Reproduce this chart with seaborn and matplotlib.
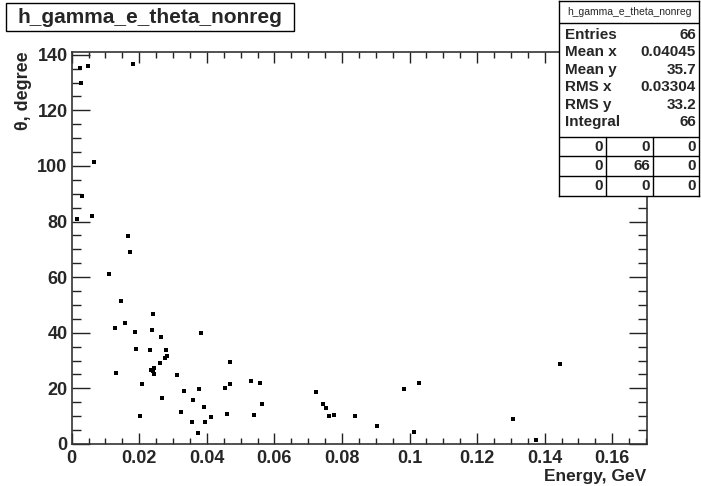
import numpy as np
import pandas as pd
import matplotlib
matplotlib.use("Agg")
import matplotlib.pyplot as plt
import matplotlib.ticker as mticker
import matplotlib.patches as mpatches
import seaborn as sns

sns.set_theme(style="white")
plt.rcParams['font.family'] = ['Liberation Sans', 'DejaVu Sans']

# photon energy (GeV) and theta (degree)
energy = [0.0025, 0.0049, 0.0182, 0.00275, 0.0067, 0.0030, 0.0015, 0.0060,
          0.0167, 0.0173, 0.0111, 0.0145, 0.0241, 0.0129, 0.0158, 0.0239,
          0.0187, 0.0264, 0.0190, 0.0233, 0.0279, 0.0282, 0.0277, 0.0261,
          0.0244, 0.0234, 0.0241, 0.0244, 0.0131, 0.0313, 0.0208, 0.0332,
          0.0378, 0.0266, 0.0358, 0.0323, 0.0356, 0.0203, 0.0375, 0.0382,
          0.0468, 0.0453, 0.0468, 0.0531, 0.0557, 0.0392, 0.0562, 0.0413,
          0.0461, 0.0540, 0.0394, 0.0722, 0.0745, 0.0753, 0.0761, 0.0775,
          0.0839, 0.0904, 0.0984, 0.1029, 0.1012, 0.1305, 0.1374, 0.1445]
theta = [135.4, 136.1, 136.8, 130.0, 101.4, 89.1, 80.8, 82.0,
         74.7, 69.0, 61.2, 51.6, 46.6, 41.7, 43.5, 41.1,
         40.4, 38.4, 34.1, 33.7, 33.9, 31.5, 30.9, 29.0,
         27.5, 26.7, 26.4, 25.3, 25.6, 24.7, 21.7, 19.1,
         19.7, 16.7, 15.7, 11.4, 7.9, 10.2, 4.1, 39.9,
         29.6, 20.3, 21.6, 22.8, 21.8, 13.2, 14.5, 9.6,
         10.8, 10.4, 7.9, 18.8, 14.3, 12.9, 10.2, 10.4,
         10.0, 6.6, 19.8, 21.9, 4.2, 9.0, 1.5, 28.8]

hist_name = "h_gamma_e_theta_nonreg"
stat_names = ["Entries", "Mean x", "Mean y", "RMS x", "RMS y", "Integral"]
stat_values = ["66", "0.04045", "35.7", "0.03304", "33.2", "66"]
cell_table = [["0", "0", "0"], ["0", "66", "0"], ["0", "0", "0"]]

df = pd.DataFrame({"energy": energy, "theta": theta})

W, H = 701, 486
fig = plt.figure(figsize=(W / 100, H / 100), dpi=100, facecolor='white')

# main pad, pixel frame 71.7..646.7 x 51.7..444
ax = fig.add_axes([71.7 / W, 1 - 444 / H, 575 / W, 392.3 / H])
sns.scatterplot(data=df, x="energy", y="theta", ax=ax, marker='s', s=6,
                color='black', linewidth=0, legend=False)
ax.set_xlim(0, 0.1702)
ax.set_ylim(0, 141.1)

ax.xaxis.set_major_locator(mticker.MultipleLocator(0.02))
ax.xaxis.set_minor_locator(mticker.MultipleLocator(0.005))
ax.yaxis.set_major_locator(mticker.MultipleLocator(20))
ax.yaxis.set_minor_locator(mticker.MultipleLocator(5))
ax.xaxis.set_major_formatter(mticker.FuncFormatter(lambda v, p: f"{v:g}"))
ax.yaxis.set_major_formatter(mticker.FuncFormatter(lambda v, p: f"{v:g}"))

ax.tick_params(axis='x', which='major', direction='in', length=8, width=1,
               top=True, bottom=True, pad=4, labelsize=13, color='#222')
ax.tick_params(axis='x', which='minor', direction='in', length=4.3, width=1,
               top=True, bottom=True, color='#222')
ax.tick_params(axis='y', which='major', direction='in', length=13, width=1,
               left=True, right=True, pad=3, labelsize=13, color='#222')
ax.tick_params(axis='y', which='minor', direction='in', length=6.5, width=1,
               left=True, right=True, color='#222')
for lab in ax.get_xticklabels() + ax.get_yticklabels():
    lab.set_fontweight('bold')

for sp in ax.spines.values():
    sp.set_color('#333')
    sp.set_linewidth(1.2)

ax.set_xlabel("Energy, GeV", fontsize=12.5, fontweight='bold', loc='right')
ax.xaxis.set_label_coords(1.0, -0.064)
ax.set_ylabel("θ, degree", fontsize=13, fontweight='bold', loc='top')
ax.yaxis.set_label_coords(-0.069, 1.0)

# title box
fig.patches.append(mpatches.Rectangle((6 / W, 1 - 31 / H), 288 / W, 28 / H,
                                      transform=fig.transFigure, facecolor='white',
                                      edgecolor='black', linewidth=1))
fig.text(150 / W, 1 - 17.5 / H, hist_name, ha='center', va='center',
         fontsize=15, fontweight='bold')

# stats box, drawn in pixel units
bx0, bx1, by0, by1 = 559, 699, 1, 196
sx = fig.add_axes([bx0 / W, 1 - by1 / H, (bx1 - bx0) / W, (by1 - by0) / H])
sx.set_xlim(bx0, bx1)
sx.set_ylim(by1, by0)
sx.set_facecolor('white')
for sp in sx.spines.values():
    sp.set_color('black')
    sp.set_linewidth(1)
sx.set_xticks([])
sx.set_yticks([])

sx.text((bx0 + bx1) / 2, 12, hist_name, ha='center', va='center', fontsize=7.5)
sx.axhline(23, color='black', lw=1)
row_y = [35, 52.5, 70, 87.5, 105, 122.5]
for yy, name, val in zip(row_y, stat_names, stat_values):
    sx.text(bx0 + 6, yy, name, ha='left', va='center', fontsize=11, fontweight='bold')
    sx.text(bx1 - 3, yy, val, ha='right', va='center', fontsize=11, fontweight='bold')

t_lines = [137, 156.5, 176]
for yy in t_lines:
    sx.axhline(yy, color='black', lw=1)
col_sep = [606, 653]
for xx in col_sep:
    sx.plot([xx, xx], [t_lines[0], by1], color='black', lw=1)
col_right = [603, 650, 696]
for i, row in enumerate(cell_table):
    yy = t_lines[0] + 9.75 + 19.5 * i
    for xr, cell in zip(col_right, row):
        sx.text(xr, yy, cell, ha='right', va='center', fontsize=11, fontweight='bold')

fig.savefig("out.png", dpi=100, facecolor='white')
